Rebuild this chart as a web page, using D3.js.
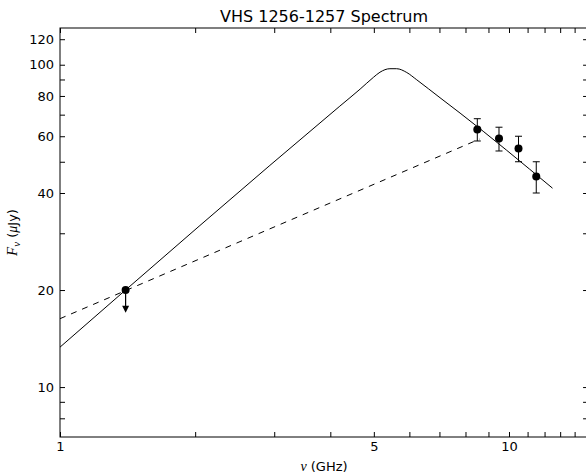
<!DOCTYPE html>
<html>
<head>
<meta charset="utf-8">
<script src="https://cdn.jsdelivr.net/npm/d3@7"></script>
<style>
  body { margin: 0; background: #fff; }
  text { font-family: "DejaVu Sans", sans-serif; fill: #000; }
  .math { font-family: "Liberation Serif", "DejaVu Serif", serif; font-style: italic; }
</style>
</head>
<body>
<svg id="chart" width="586" height="475"></svg>
<script>
// detections (GHz, uJy)
const detFreq = [8.5, 9.5, 10.5, 11.5];
const detFlux = [63, 59, 55, 45];
const detErr = [5, 5, 5, 5];

// upper limit
const limFreq = [1.4];
const limFlux = [20];
const limArrowTo = [17];

// model curve
const modelFreq = [1.0, 4.2, 4.66, 4.99, 5.16, 5.43, 5.62, 5.92, 6.23, 7.02, 7.78, 12.5];
const modelFlux = [13.3, 74.4, 84.0, 91.4, 94.8, 97.2, 97.2, 94.6, 89.8, 79.0, 70.8, 41.4];

// dashed line
const dashFreq = [1.0, 8.6];
const dashFlux = [16.3, 58.8];

// ticks
const xTicks = [1, 2, 3, 4, 5, 6, 7, 8, 9, 10, 11, 12, 13, 14, 15];
const xLabels = [1, 5, 10];
const yTicks = [8, 9, 10, 20, 30, 40, 50, 60, 70, 80, 90, 100, 120];
const yLabels = [10, 20, 40, 60, 80, 100, 120];

const svg = d3.select("#chart");
const padLeft = 60, padTop = 28, padBottom = 437;

const x = d3.scaleLog().domain([1, 15]).range([padLeft, padLeft + 449 * Math.log10(15)]);
const y = d3.scaleLog().domain([7, 130]).range([padBottom, padTop]);
const padRight = x.range()[1];

svg.append("defs").append("clipPath").attr("id", "plotclip")
  .append("rect")
  .attr("x", padLeft).attr("y", padTop)
  .attr("width", padRight - padLeft).attr("height", padBottom - padTop);

const fmt = (labels) => (d) => (labels.includes(d) ? d : "");

// axes, ticks pointing inwards
const gx = svg.append("g").attr("transform", `translate(0,${padBottom})`)
  .call(d3.axisBottom(x).tickValues(xTicks).tickFormat(fmt(xLabels)).tickSize(-5).tickPadding(5));
const gxt = svg.append("g").attr("transform", `translate(0,${padTop})`)
  .call(d3.axisTop(x).tickValues(xTicks).tickFormat("").tickSize(-5));
const gy = svg.append("g").attr("transform", `translate(${padLeft},0)`)
  .call(d3.axisLeft(y).tickValues(yTicks).tickFormat(fmt(yLabels)).tickSize(-5).tickPadding(6));
const gyr = svg.append("g").attr("transform", `translate(${padRight},0)`)
  .call(d3.axisRight(y).tickValues(yTicks).tickFormat("").tickSize(-5));

[gx, gxt, gy, gyr].forEach((g) => {
  g.select(".domain").remove();
  g.selectAll(".tick line").attr("stroke", "#000");
  g.selectAll(".tick text").attr("font-size", 13).attr("font-family", "DejaVu Sans");
});

svg.append("rect")
  .attr("x", padLeft).attr("y", padTop)
  .attr("width", padRight - padLeft).attr("height", padBottom - padTop)
  .attr("fill", "none").attr("stroke", "#000").attr("stroke-width", 1);

const plot = svg.append("g").attr("clip-path", "url(#plotclip)");

// model curve
const model = modelFreq.map((f, i) => [x(f), y(modelFlux[i])]);
plot.append("path")
  .attr("d", d3.line().curve(d3.curveMonotoneX)(model))
  .attr("fill", "none").attr("stroke", "#000").attr("stroke-width", 1);

// dashed line
const dash = dashFreq.map((f, i) => [x(f), y(dashFlux[i])]);
plot.append("path")
  .attr("d", d3.line()(dash))
  .attr("fill", "none").attr("stroke", "#000").attr("stroke-width", 1)
  .attr("stroke-dasharray", "6,6");

// error bars
const det = detFreq.map((f, i) => ({ f, s: detFlux[i], e: detErr[i] }));
const eb = plot.selectAll(".eb").data(det).enter().append("g").attr("class", "eb")
  .attr("stroke", "#000").attr("stroke-width", 1);
eb.append("line")
  .attr("x1", (d) => x(d.f)).attr("x2", (d) => x(d.f))
  .attr("y1", (d) => y(d.s - d.e)).attr("y2", (d) => y(d.s + d.e));
eb.append("line")
  .attr("x1", (d) => x(d.f) - 3.5).attr("x2", (d) => x(d.f) + 3.5)
  .attr("y1", (d) => y(d.s + d.e)).attr("y2", (d) => y(d.s + d.e));
eb.append("line")
  .attr("x1", (d) => x(d.f) - 3.5).attr("x2", (d) => x(d.f) + 3.5)
  .attr("y1", (d) => y(d.s - d.e)).attr("y2", (d) => y(d.s - d.e));

plot.selectAll(".pt").data(det).enter().append("circle").attr("class", "pt")
  .attr("cx", (d) => x(d.f)).attr("cy", (d) => y(d.s)).attr("r", 4)
  .attr("fill", "#000");

// upper limit with arrow
const lim = limFreq.map((f, i) => ({ f, s: limFlux[i], to: limArrowTo[i] }));
const ul = plot.selectAll(".ul").data(lim).enter().append("g").attr("class", "ul");
ul.append("line")
  .attr("x1", (d) => x(d.f)).attr("x2", (d) => x(d.f))
  .attr("y1", (d) => y(d.s)).attr("y2", (d) => y(d.to) - 6)
  .attr("stroke", "#000").attr("stroke-width", 1.2);
ul.append("path")
  .attr("d", (d) => {
    const cx = x(d.f), ty = y(d.to);
    return `M${cx - 3.5},${ty - 7}L${cx + 3.5},${ty - 7}L${cx},${ty}Z`;
  })
  .attr("fill", "#000");
ul.append("circle")
  .attr("cx", (d) => x(d.f)).attr("cy", (d) => y(d.s)).attr("r", 4)
  .attr("fill", "#000");

// title and labels
svg.append("text")
  .attr("x", (padLeft + padRight) / 2).attr("y", 22)
  .attr("text-anchor", "middle").attr("font-size", 16)
  .text("VHS 1256-1257 Spectrum");

const xl = svg.append("text")
  .attr("x", (padLeft + padRight) / 2).attr("y", 471)
  .attr("text-anchor", "middle").attr("font-size", 13);
xl.append("tspan").attr("class", "math").attr("font-size", 14).text("ν");
xl.append("tspan").text(" (GHz)");

const yl = svg.append("text")
  .attr("transform", `translate(17,${(padTop + padBottom) / 2}) rotate(-90)`)
  .attr("text-anchor", "middle").attr("font-size", 13);
yl.append("tspan").attr("class", "math").attr("font-size", 15).text("F");
yl.append("tspan").attr("class", "math").attr("font-size", 11).attr("dy", 3).text("ν");
yl.append("tspan").attr("dy", -3).text(" (");
yl.append("tspan").attr("class", "math").attr("font-size", 14).text("μ");
yl.append("tspan").text("Jy)");
</script>
</body>
</html>
